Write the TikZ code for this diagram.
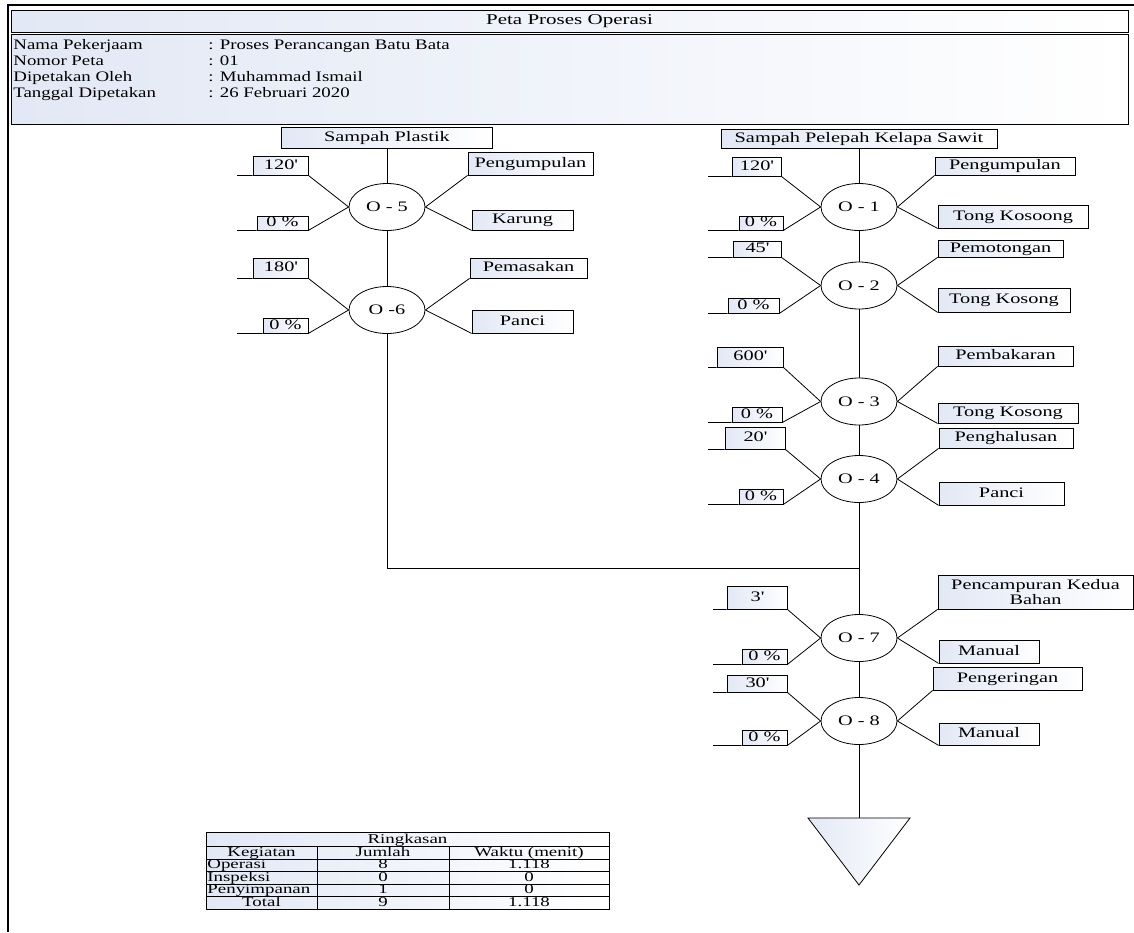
\documentclass[tikz,border=0pt]{standalone}
\usepackage{fontspec}
\setmainfont{Liberation Serif}[FakeStretch=1.4]
\newfontfamily\hdrfont{Liberation Serif}[FakeStretch=1.3]
\usepackage{tikz}
\usetikzlibrary{shapes.geometric}
\definecolor{boxfill}{RGB}{226,232,245}
\newcommand{\oplegs}[2]{%
  \coordinate (t#1e) at (#2,0 |- t#1.south west);
  \coordinate (r#1e) at (#2,0 |- r#1.south west);
  \draw (t#1e) -- (t#1.south west) (t#1.south east) -- (o#1.west);
  \draw (r#1e) -- (r#1.south west) (r#1.south east) -- (o#1.west);
  \draw (o#1.east) -- (a#1.south west) (o#1.east) -- (b#1.south west);}

\begin{document}
\begin{tikzpicture}[x=1pt,y=-1pt,line width=0.8pt,
        every node/.style={font=\fontsize{14.5}{15}\selectfont},
        pbox/.style 2 args={draw,left color=boxfill,right color=white,
          minimum width=#1,minimum height=#2,inner sep=0pt,text height=10pt,text depth=2.8pt},
        op/.style={draw,fill=white,ellipse,minimum width=76,minimum height=47,inner sep=0pt},
        hdr/.style={anchor=base west,inner sep=0pt,font=\hdrfont\fontsize{14.5}{16}\selectfont},
        cell/.style={anchor=base,inner sep=0pt,font=\fontsize{13.5}{14}\selectfont}]
        \useasboundingbox (0,0) rectangle (1134,932);
        \draw[line width=2.5pt] (8,932) -- (8,5) -- (1134,5);
        \node[pbox={1117}{22},font=\fontsize{15}{16}\selectfont] (title) at (569.5,21) {Peta Proses Operasi};
        \node[pbox={1117}{90}] (info) at (569.5,79.5) {};
        \node[hdr] (h1) at (13,49) {Nama Pekerjaam};
        \node[hdr] (h2) at (13,65) {Nomor Peta};
        \node[hdr] (h3) at (13,81) {Dipetakan Oleh};
        \node[hdr] (h4) at (13,97) {Tanggal Dipetakan};
        \node[hdr] (v1) at (208,49) {: Proses Perancangan Batu Bata};
        \node[hdr] (v2) at (208,65) {: 01};
        \node[hdr] (v3) at (208,81) {: Muhammad Ismail};
        \node[hdr] (v4) at (208,97) {: 26 Februari 2020};

        % sampah plastik
        \node[pbox={211}{21}] (sp) at (387,137.5) {Sampah Plastik};
        \node[op] (o5) at (387,207) {O - 5};
        \node[pbox={55}{19}] (t5) at (280.5,165.5) {120\textquotesingle};
        \node[pbox={51}{14}] (r5) at (282.5,223) {0 \%};
        \node[pbox={125}{23}] (a5) at (530.5,163.5) {Pengumpulan};
        \node[pbox={101}{20}] (b5) at (522.5,220) {Karung};
        \node[op] (o6) at (387,310) {O -6};
        \node[pbox={55}{20}] (t6) at (280.5,268) {180\textquotesingle};
        \node[pbox={45}{15}] (r6) at (285.5,325.5) {0 \%};
        \node[pbox={117}{20}] (a6) at (528.5,268) {Pemasakan};
        \node[pbox={101}{23}] (b6) at (522.5,321.5) {Panci};
        \oplegs{5}{237}
        \oplegs{6}{237}

        % sampah pelepah kelapa sawit
        \node[pbox={276}{19}] (sk) at (859,138.5) {Sampah Pelepah Kelapa Sawit};
        \node[op] (o1) at (859,207) {O - 1};
        \node[pbox={49}{19}] (t1) at (756.5,166.5) {120\textquotesingle};
        \node[pbox={44}{14}] (r1) at (761,223) {0 \%};
        \node[pbox={140}{18}] (a1) at (1005,166) {Pengumpulan};
        \node[pbox={150}{23}] (b1) at (1013,216.5) {Tong Kosoong};
        \node[op] (o2) at (859,285.5) {O - 2};
        \node[pbox={48}{16}] (t2) at (757,249) {45\textquotesingle};
        \node[pbox={51}{15}] (r2) at (753.5,305.5) {0 \%};
        \node[pbox={125}{17}] (a2) at (1000.5,248.5) {Pemotongan};
        \node[pbox={132}{24}] (b2) at (1004,300) {Tong Kosong};
        \node[op] (o3) at (859,401.5) {O - 3};
        \node[pbox={66}{20}] (t3) at (750,357) {600\textquotesingle};
        \node[pbox={50}{15}] (r3) at (757,414.5) {0 \%};
        \node[pbox={135}{20}] (a3) at (1005.5,356) {Pembakaran};
        \node[pbox={140}{20}] (b3) at (1008,413) {Tong Kosong};
        \node[op] (o4) at (859,479) {O - 4};
        \node[pbox={60}{22}] (t4) at (755,438) {20\textquotesingle};
        \node[pbox={44}{15}] (r4) at (761,496.5) {0 \%};
        \node[pbox={134}{20}] (a4) at (1006,438) {Penghalusan};
        \node[pbox={125}{23}] (b4) at (1001.5,493.5) {Panci};
        \oplegs{1}{708}
        \oplegs{2}{708}
        \oplegs{3}{708}
        \oplegs{4}{708}

        % gabungan
        \node[op] (o7) at (859,638) {O - 7};
        \node[pbox={60}{23}] (t7) at (757,597.5) {3\textquotesingle};
        \node[pbox={45}{15}] (r7) at (764.5,656.5) {0 \%};
        \node[pbox={195}{34},text height={},text depth={},align=center] (a7) at (1035.5,592) {Pencampuran Kedua\\Bahan};
        \node[pbox={100}{23}] (b7) at (989,651.5) {Manual};
        \node[op] (o8) at (859,721) {O - 8};
        \node[pbox={60}{17}] (t8) at (757,683.5) {30\textquotesingle};
        \node[pbox={45}{15}] (r8) at (764.5,737.5) {0 \%};
        \node[pbox={149}{23}] (a8) at (1007.5,678.5) {Pengeringan};
        \node[pbox={100}{22}] (b8) at (989,734) {Manual};
        \oplegs{7}{713}
        \oplegs{8}{713}

        \coordinate (jl) at (387,568);
        \coordinate (jr) at (859,568);
        \coordinate (st) at (859,818);
        \draw (sp) -- (o5) -- (o6) -- (jl) -- (jr);
        \draw (sk) -- (o1) -- (o2) -- (o3) -- (o4) -- (o7) -- (o8) -- (st);
        \draw[left color=boxfill,right color=white] (808,818) -- (910,818) -- (859,885) -- cycle;

        % ringkasan
        \draw[left color=boxfill,right color=white] (206,832) rectangle (609,909);
        \draw (206,846) -- (609,846) (206,859) -- (609,859) (206,871) -- (609,871)
              (206,884) -- (609,884) (206,896) -- (609,896)
              (317,846) -- (317,909) (449,846) -- (449,909);
        \node[cell] (c0) at (407.5,843) {Ringkasan};
        \node[cell] (c1) at (261.5,856) {Kegiatan};
        \node[cell] (c2) at (383,856) {Jumlah};
        \node[cell] (c3) at (529,856) {Waktu (menit)};
        \node[cell,anchor=base west] (c4) at (207,868.5) {Operasi};
        \node[cell] (c5) at (383,868.5) {8};
        \node[cell] (c6) at (529,868.5) {1.118};
        \node[cell,anchor=base west] (c7) at (207,881) {Inspeksi};
        \node[cell] (c8) at (383,881) {0};
        \node[cell] (c9) at (529,881) {0};
        \node[cell,anchor=base west] (c10) at (207,893.5) {Penyimpanan};
        \node[cell] (c11) at (383,893.5) {1};
        \node[cell] (c12) at (529,893.5) {0};
        \node[cell] (c13) at (261.5,906) {Total};
        \node[cell] (c14) at (383,906) {9};
        \node[cell] (c15) at (529,906) {1.118};
    \end{tikzpicture}
\end{document}
